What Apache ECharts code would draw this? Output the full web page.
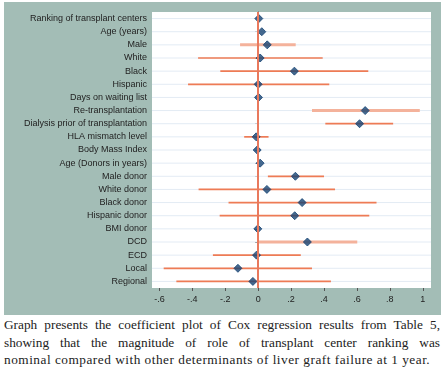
<!DOCTYPE html>
<html>
<head>
<meta charset="utf-8">
<script src="https://cdn.jsdelivr.net/npm/echarts@6/dist/echarts.min.js"></script>
<style>
body { margin: 0; background: #fff; width: 445px; height: 376px; overflow: hidden; position: relative; }
#panel { position: absolute; left: 4px; top: 2px; width: 437px; height: 313px; background: #a3bdb6; }
#chart { position: absolute; left: 0; top: 0; width: 445px; height: 316px; }
#caption { position: absolute; left: 4px; top: 316px; width: 436px; font-family: 'Liberation Serif', serif; font-size: 13.3px; line-height: 17.5px; color: #222; letter-spacing: 0.5px; }
#caption div { white-space: nowrap; text-align: justify; text-align-last: justify; letter-spacing: 0; }
#caption div.last { text-align: left; text-align-last: left; letter-spacing: 0.5px; }
</style>
</head>
<body>
<div id="panel"></div>
<div id="chart"></div>
<div id="caption">
<div>Graph presents the coefficient plot of Cox regression results from Table 5,</div>
<div>showing that the magnitude of role of transplant center ranking was</div>
<div class="last">nominal compared with other determinants of liver graft failure at 1 year.</div>
</div>
<script>
// rows, top to bottom
var categories = ['Ranking of transplant centers', 'Age (years)', 'Male', 'White', 'Black', 'Hispanic',
    'Days on waiting list', 'Re-transplantation', 'Dialysis prior of transplantation', 'HLA mismatch level',
    'Body Mass Index', 'Age (Donors in years)', 'Male donor', 'White donor', 'Black donor', 'Hispanic donor',
    'BMI donor', 'DCD', 'ECD', 'Local', 'Regional'];

// point estimates and 95% CI bounds
var estimates = [0.004, 0.022, 0.055, 0.012, 0.22, 0.0, 0.002, 0.65, 0.616, -0.012, -0.006,
    0.012, 0.226, 0.053, 0.267, 0.222, -0.002, 0.299, -0.01, -0.123, -0.032];
var ciLow = [0.004, 0.022, -0.11, -0.365, -0.23, -0.426, 0.002, 0.327, 0.408, -0.085, -0.006,
    0.012, 0.059, -0.362, -0.18, -0.234, -0.002, 0.0, -0.275, -0.574, -0.497];
var ciHigh = [0.004, 0.022, 0.228, 0.392, 0.669, 0.432, 0.002, 0.982, 0.82, 0.063, -0.006,
    0.012, 0.4, 0.467, 0.719, 0.675, -0.002, 0.602, 0.259, 0.327, 0.442];

var xTickValues = [-0.6, -0.4, -0.2, 0, 0.2, 0.4, 0.6, 0.8, 1];
var xTickLabels = ['-.6', '-.4', '-.2', '0', '.2', '.4', '.6', '.8', '1'];

var X_MIN = -0.645, X_MAX = 1.05;
var lightRows = ['Male', 'Re-transplantation', 'DCD'];

window.onload = function () {
    var chart = echarts.init(document.getElementById('chart'));

    var rows = categories.map(function (c, i) { return [i, ciLow[i], ciHigh[i]]; });
    var points = categories.map(function (c, i) { return [estimates[i], i]; });

    var option = {
        animation: false,
        grid: {
            left: 152, top: 12, right: 14, height: 276,
            show: true, backgroundColor: '#fff', borderWidth: 0
        },
        xAxis: {
            type: 'value',
            min: X_MIN, max: X_MAX,
            axisLine: { lineStyle: { color: '#555', width: 1 } },
            axisTick: { show: true, length: 3, customValues: xTickValues, lineStyle: { color: '#555' } },
            axisLabel: {
                customValues: xTickValues,
                fontSize: 9, color: '#222', margin: 7, fontFamily: 'Liberation Sans',
                formatter: function (v) {
                    var k = xTickValues.findIndex(function (t) { return Math.abs(t - v) < 1e-6; });
                    return k >= 0 ? xTickLabels[k] : '';
                }
            },
            splitLine: { show: false }
        },
        yAxis: {
            type: 'category',
            data: categories,
            inverse: true,
            axisLine: { lineStyle: { color: '#555', width: 1 } },
            axisTick: { show: true, alignWithLabel: true, length: 3, lineStyle: { color: '#555' } },
            axisLabel: { fontSize: 9, color: '#222', margin: 5, fontFamily: 'Liberation Sans' },
            splitLine: { show: false }
        },
        series: [{
            // faint row grid lines + zero reference line
            type: 'custom',
            z: 1,
            silent: true,
            data: rows,
            encode: { x: [1, 2], y: 0 },
            renderItem: function (params, api) {
                var idx = api.value(0);
                var a = api.coord([X_MIN, idx]);
                var b = api.coord([X_MAX, idx]);
                return {
                    type: 'line',
                    shape: { x1: a[0], y1: a[1], x2: b[0], y2: b[1] },
                    style: { stroke: '#e3ebf4', lineWidth: 1 }
                };
            },
            markLine: {
                silent: true,
                symbol: ['none', 'none'],
                label: { show: false },
                lineStyle: { color: '#e9795d', width: 2, type: 'solid' },
                data: [{ xAxis: 0 }]
            }
        }, {
            // confidence intervals
            type: 'custom',
            z: 3,
            data: rows,
            encode: { x: [1, 2], y: 0 },
            renderItem: function (params, api) {
                var idx = api.value(0);
                var lo = api.coord([api.value(1), idx]);
                var hi = api.coord([api.value(2), idx]);
                var light = lightRows.indexOf(categories[idx]) >= 0;
                return {
                    type: 'line',
                    shape: { x1: lo[0], y1: lo[1], x2: hi[0], y2: hi[1] },
                    style: { stroke: light ? '#f4b29b' : '#ee7b55', lineWidth: light ? 3 : 1.7 }
                };
            }
        }, {
            type: 'scatter',
            z: 4,
            data: points,
            symbol: 'diamond',
            symbolSize: 8,
            itemStyle: { color: '#174373', borderColor: '#174373', borderWidth: 1 }
        }]
    };

    chart.setOption(option);
};
</script>
</body>
</html>
